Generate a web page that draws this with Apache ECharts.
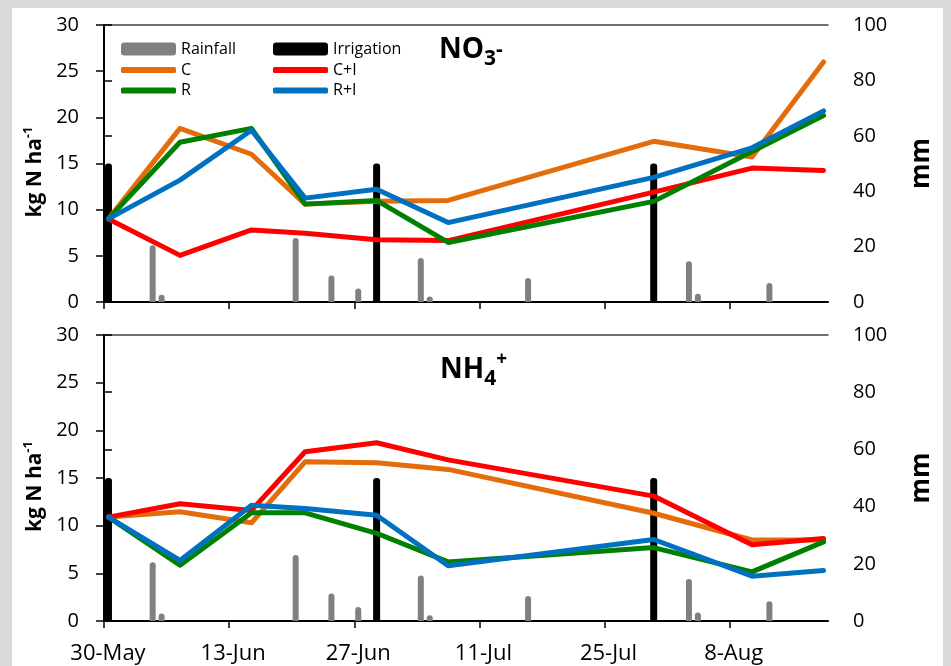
<!DOCTYPE html>
<html>
<head>
<meta charset="utf-8">
<script src="https://cdn.jsdelivr.net/npm/echarts@6/dist/echarts.min.js"></script>
<style>
  html, body { margin: 0; padding: 0; background: #d9d9d9; }
  #chart { width: 951px; height: 666px; }
</style>
</head>
<body>
<div id="chart"></div>
<script>
// days after 30-May for each sampling date
const sampleDays = [0, 8, 16, 22, 30, 38, 61, 72, 80];

// NO3- (kg N ha-1)
const no3C  = [9.0, 18.8, 16.0, 10.6, 10.9, 11.0, 17.4, 15.7, 26.0];
const no3CI = [9.0, 5.05, 7.8, 7.45, 6.75, 6.65, 11.9, 14.5, 14.25];
const no3R  = [9.0, 17.3, 18.8, 10.6, 11.0, 6.45, 10.9, 16.3, 20.2];
const no3RI = [9.0, 13.2, 18.6, 11.25, 12.2, 8.6, 13.5, 16.7, 20.7];

// NH4+ (kg N ha-1)
const nh4C  = [10.9, 11.45, 10.3, 16.7, 16.6, 15.9, 11.3, 8.5, 8.5];
const nh4CI = [10.9, 12.3, 11.6, 17.75, 18.7, 16.9, 13.1, 8.0, 8.65];
const nh4R  = [10.9, 5.85, 11.35, 11.35, 9.2, 6.2, 7.7, 5.15, 8.3];
const nh4RI = [10.9, 6.35, 12.15, 11.8, 11.1, 5.8, 8.55, 4.7, 5.3];

// rainfall and irrigation (mm)
const rainDays = [5, 6, 21, 25, 28, 35, 36, 47, 65, 66, 74];
const rainMm   = [20.5, 2.6, 23.1, 9.6, 4.9, 15.9, 2.0, 8.7, 14.7, 3.0, 6.9];
const irrigDays = [0, 30, 61];
const irrigMm   = [50, 50, 50];

// x axis ticks
const xTickDays   = [0, 14, 28, 42, 56, 70];
const xTickLabels = ['30-May', '13-Jun', '27-Jun', '11-Jul', '25-Jul', '8-Aug'];

const FONT = 'Open Sans';
const colors = { C: '#E46C0A', CI: '#FF0000', R: '#008000', RI: '#0070C0' };

// excel puts each day in the middle of its slot
const pts = (days, vals) => days.map((d, i) => [d + 0.5, vals[i]]);

function xAxes(grid, labels) {
  return [{
    type: 'value', gridIndex: grid, position: 'bottom', min: 0, max: 81,
    axisLine: { onZero: false, lineStyle: { color: '#000', width: 2 } },
    axisTick: { customValues: xTickDays, length: 7, lineStyle: { color: '#000', width: 1.5 } },
    axisLabel: {
      show: labels, customValues: xTickDays, margin: 22, fontSize: 22, fontFamily: FONT, color: '#000',
      padding: [0, 0, 0, 8],
      formatter: v => xTickLabels[xTickDays.indexOf(v)] || ''
    },
    splitLine: { show: false }
  }, {
    type: 'value', gridIndex: grid, position: 'top', min: 0, max: 81,
    axisLine: { onZero: false, lineStyle: { color: '#404040', width: 1.5 } },
    axisTick: { show: false }, axisLabel: { show: false }, splitLine: { show: false }
  }];
}

function yAxes(grid) {
  return [{
    type: 'value', gridIndex: grid, position: 'left', min: 0, max: 30, interval: 5,
    name: '{a|kg N ha}{s|-1}', nameLocation: 'middle', nameGap: 52, nameRotate: 90,
    nameTextStyle: {
      padding: [0, 17, 0, 0],
      rich: {
        a: { fontSize: 21, fontWeight: 'bold', fontFamily: FONT, color: '#000', lineHeight: 26 },
        s: { fontSize: 13, fontWeight: 'bold', fontFamily: FONT, color: '#000', lineHeight: 22, verticalAlign: 'top' }
      }
    },
    axisLine: { show: true, lineStyle: { color: '#000', width: 2 } },
    axisTick: { show: true, length: 8, lineStyle: { color: '#000', width: 1.5 } },
    axisLabel: { margin: 25, fontSize: 20, fontFamily: FONT, color: '#000' },
    splitLine: { show: false }
  }, {
    type: 'value', gridIndex: grid, position: 'right', min: 0, max: 100, interval: 20,
    name: 'mm', nameLocation: 'middle', nameGap: 80, nameRotate: 90,
    nameTextStyle: { fontSize: 26, fontWeight: 'bold', fontFamily: FONT, color: '#000', lineHeight: 28 },
    axisLine: { show: true, lineStyle: { color: '#000', width: 2 } },
    axisTick: { show: true, length: 8, lineStyle: { color: '#000', width: 1.5 } },
    axisLabel: { margin: 25, fontSize: 20, fontFamily: FONT, color: '#000' },
    splitLine: { show: false }
  }];
}

function panelSeries(p, c, ci, r, ri) {
  const xi = p * 2, yi = p * 2;
  const line = (name, vals, color) => ({
    name, type: 'line', xAxisIndex: xi, yAxisIndex: yi, data: pts(sampleDays, vals),
    symbol: 'none', color, z: 5,
    lineStyle: { width: 5, color, cap: 'round', join: 'round' }
  });
  return [
    { name: 'Rainfall', type: 'bar', xAxisIndex: xi, yAxisIndex: yi + 1, data: pts(rainDays, rainMm),
      barWidth: 6, color: '#808080', itemStyle: { color: '#808080', borderRadius: [3, 3, 0, 0] } },
    { name: 'Irrigation', type: 'bar', xAxisIndex: xi, yAxisIndex: yi + 1, data: pts(irrigDays, irrigMm),
      barWidth: 7, barGap: '-100%', color: '#000', itemStyle: { color: '#000', borderRadius: [3, 3, 0, 0] } },
    line('C', c, colors.C),
    line('C+I', ci, colors.CI),
    line('R', r, colors.R),
    line('R+I', ri, colors.RI)
  ];
}

const legendText = { fontSize: 16, fontFamily: FONT, color: '#000', lineHeight: 16 };
const legendBase = { padding: 0, itemWidth: 55, textStyle: legendText, selectedMode: false, itemStyle: { borderWidth: 0 } };

const titleRich = {
  m: { fontSize: 28, fontWeight: 'bold', fontFamily: FONT, color: '#000', lineHeight: 40, verticalAlign: 'middle' },
  b: { fontSize: 21, fontWeight: 'bold', fontFamily: FONT, color: '#000', lineHeight: 14, verticalAlign: 'bottom' },
  p: { fontSize: 21, fontWeight: 'bold', fontFamily: FONT, color: '#000', lineHeight: 40, verticalAlign: 'middle' },
  q: { fontSize: 19, fontWeight: 'bold', fontFamily: FONT, color: '#000', lineHeight: 30, verticalAlign: 'top' }
};

const option = {
  backgroundColor: '#d9d9d9',
  animation: false,
  graphic: [{ type: 'rect', z: -10, shape: { x: 12, y: 8, width: 931, height: 670 }, style: { fill: '#fff' } }],
  title: [
    { text: '{m|NO}{b|3}{p|-}', left: 439, top: 30, padding: 0, textStyle: { rich: titleRich } },
    { text: '{m|NH}{b|4}{q|+}', left: 440, top: 350, padding: 0, textStyle: { rich: titleRich } }
  ],
  legend: [
    Object.assign({}, legendBase, { data: [{ name: 'Rainfall', icon: 'roundRect' }], left: 121, top: 41, itemHeight: 13 }),
    Object.assign({}, legendBase, { data: [{ name: 'Irrigation', icon: 'roundRect' }], left: 273, top: 41, itemHeight: 13 }),
    Object.assign({}, legendBase, { data: ['C', 'R'], icon: 'roundRect', orient: 'vertical', left: 121, top: 62, itemHeight: 6, itemGap: 4.5 }),
    Object.assign({}, legendBase, { data: ['C+I', 'R+I'], icon: 'roundRect', orient: 'vertical', left: 273, top: 62, itemHeight: 6, itemGap: 4.5 })
  ],
  grid: [
    { left: 104, top: 25, width: 724, height: 277 },
    { left: 104, top: 335, width: 724, height: 286 }
  ],
  xAxis: [...xAxes(0, false), ...xAxes(1, true)],
  yAxis: [...yAxes(0), ...yAxes(1)],
  series: [
    ...panelSeries(0, no3C, no3CI, no3R, no3RI),
    ...panelSeries(1, nh4C, nh4CI, nh4R, nh4RI)
  ]
};

echarts.init(document.getElementById('chart')).setOption(option);
</script>
</body>
</html>
